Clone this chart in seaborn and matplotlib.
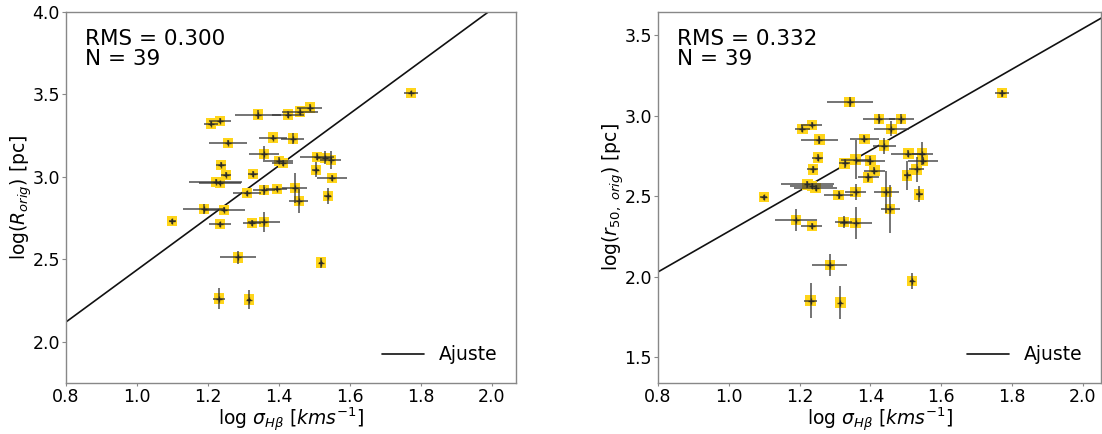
import numpy as np
import pandas as pd
import matplotlib
matplotlib.use("Agg")
import matplotlib.pyplot as plt
import seaborn as sns

# ---- data ----
sigma = [1.208, 1.234, 1.341, 1.425, 1.459, 1.487, 1.256, 1.383, 1.439, 1.358,
         1.400, 1.411, 1.507, 1.530, 1.546, 1.237, 1.251, 1.327, 1.504, 1.549,
         1.222, 1.234, 1.310, 1.358, 1.394, 1.445, 1.456, 1.538, 1.189, 1.245,
         1.099, 1.234, 1.324, 1.358, 1.285, 1.518, 1.231, 1.315, 1.772]
sigma_err = [0.020, 0.030, 0.065, 0.045, 0.050, 0.035, 0.053, 0.040, 0.033, 0.042,
             0.040, 0.030, 0.048, 0.020, 0.030, 0.015, 0.015, 0.015, 0.010, 0.042,
             0.075, 0.060, 0.040, 0.030, 0.030, 0.035, 0.027, 0.010, 0.060, 0.060,
             0.010, 0.030, 0.025, 0.045, 0.050, 0.005, 0.018, 0.005, 0.020]
logR = [3.323, 3.341, 3.378, 3.378, 3.396, 3.420, 3.207, 3.238, 3.232, 3.140,
        3.098, 3.085, 3.122, 3.116, 3.104, 3.073, 3.012, 3.018, 3.043, 2.994,
        2.970, 2.963, 2.902, 2.921, 2.927, 2.933, 2.854, 2.884, 2.805, 2.800,
        2.732, 2.713, 2.720, 2.726, 2.512, 2.480, 2.262, 2.256, 3.510]
logR_err = [0.015, 0.015, 0.028, 0.020, 0.020, 0.020, 0.015, 0.015, 0.035, 0.050,
            0.020, 0.020, 0.020, 0.040, 0.055, 0.015, 0.015, 0.020, 0.045, 0.020,
            0.015, 0.015, 0.015, 0.030, 0.015, 0.090, 0.075, 0.050, 0.030, 0.015,
            0.015, 0.015, 0.020, 0.060, 0.040, 0.030, 0.065, 0.055, 0.010]
logr50 = [2.920, 2.944, 3.086, 2.981, 2.920, 2.981, 2.852, 2.858, 2.815, 2.728,
          2.722, 2.660, 2.765, 2.667, 2.765, 2.667, 2.741, 2.704, 2.630, 2.722,
          2.574, 2.565, 2.506, 2.525, 2.617, 2.525, 2.420, 2.512, 2.352, 2.550,
          2.494, 2.315, 2.340, 2.333, 2.074, 1.975, 1.852, 1.840, 3.140]
logr50_err = [0.020, 0.015, 0.030, 0.030, 0.045, 0.030, 0.025, 0.020, 0.050, 0.120,
              0.030, 0.020, 0.020, 0.080, 0.070, 0.020, 0.020, 0.030, 0.090, 0.020,
              0.020, 0.020, 0.025, 0.050, 0.030, 0.130, 0.150, 0.050, 0.070, 0.020,
              0.015, 0.020, 0.040, 0.100, 0.070, 0.050, 0.110, 0.100, 0.020]

fit_slope = [1.58, 1.26]
fit_intercept = [0.856, 1.022]
rms_values = ["0.300", "0.332"]
n_points = 39
ylabels = [r"log($R_{orig}$) [pc]", r"log($r_{50,\ orig}$) [pc]"]
xlabel = r"log $\sigma_{H\beta}$ [$kms^{-1}$]"

df = pd.DataFrame({"sigma": sigma, "sigma_err": sigma_err,
                   "logR": logR, "logR_err": logR_err,
                   "logr50": logr50, "logr50_err": logr50_err})

sns.set_style("white")
plt.rcParams["font.family"] = ["DejaVu Sans"]
plt.rcParams["text.color"] = "black"
plt.rcParams["axes.labelcolor"] = "black"
plt.rcParams["xtick.color"] = "black"
plt.rcParams["ytick.color"] = "black"

W, H = 1102, 434
fig = plt.figure(figsize=(W / 100, H / 100), dpi=100)
ax1 = fig.add_axes([66 / W, 1 - 383 / H, 450 / W, 371 / H])
ax2 = fig.add_axes([658 / W, 1 - 383 / H, 443 / W, 371 / H])

panels = [(ax1, "logR", "logR_err", (0.8, 2.068), (1.75, 4.0),
           [2.0, 2.5, 3.0, 3.5, 4.0]),
          (ax2, "logr50", "logr50_err", (0.8, 2.051), (1.34, 3.645),
           [1.5, 2.0, 2.5, 3.0, 3.5])]

for i, (ax, ycol, ecol, xl, yl, yt) in enumerate(panels):
    sns.scatterplot(data=df, x="sigma", y=ycol, ax=ax, marker="s", s=55,
                    color="#FFD51A", edgecolor="none", zorder=2, legend=False)
    ax.errorbar(df["sigma"], df[ycol], xerr=df["sigma_err"], yerr=df[ecol],
                fmt="+", color="#222222", ecolor="#333333", elinewidth=1.2,
                markersize=4, alpha=0.8, zorder=3)
    xs = np.linspace(0.7, 2.2, 50)
    fit_df = pd.DataFrame({"x": xs, "y": fit_intercept[i] + fit_slope[i] * xs})
    sns.lineplot(data=fit_df, x="x", y="y", ax=ax, color="#111111", lw=1.2,
                 label="Ajuste", zorder=1)
    ax.set_xlim(*xl)
    ax.set_ylim(*yl)
    ax.set_xticks([0.8, 1.0, 1.2, 1.4, 1.6, 1.8, 2.0])
    ax.set_yticks(yt)
    ax.tick_params(axis="x", labelsize=12.5, length=2.5, color="#888888",
                   labelcolor="black", bottom=True, pad=1)
    ax.tick_params(axis="y", labelsize=12.5, length=3, color="#888888",
                   labelcolor="black", left=True, pad=1.5)
    for sp in ax.spines.values():
        sp.set_color("#888888")
        sp.set_linewidth(1.0)
    ax.set_xlabel(xlabel, fontsize=13.5, labelpad=0)
    ax.set_ylabel(ylabels[i], fontsize=13.5, labelpad=-1)
    ax.text(0.042, 0.955, f"RMS = {rms_values[i]}\nN = {n_points}",
            transform=ax.transAxes, fontsize=15.5, va="top", ha="left",
            linespacing=1.0)
    ax.legend(loc="lower right", frameon=False, fontsize=13.5,
              handlelength=2.2, borderaxespad=0.6)

fig.savefig("out.png", dpi=100)
